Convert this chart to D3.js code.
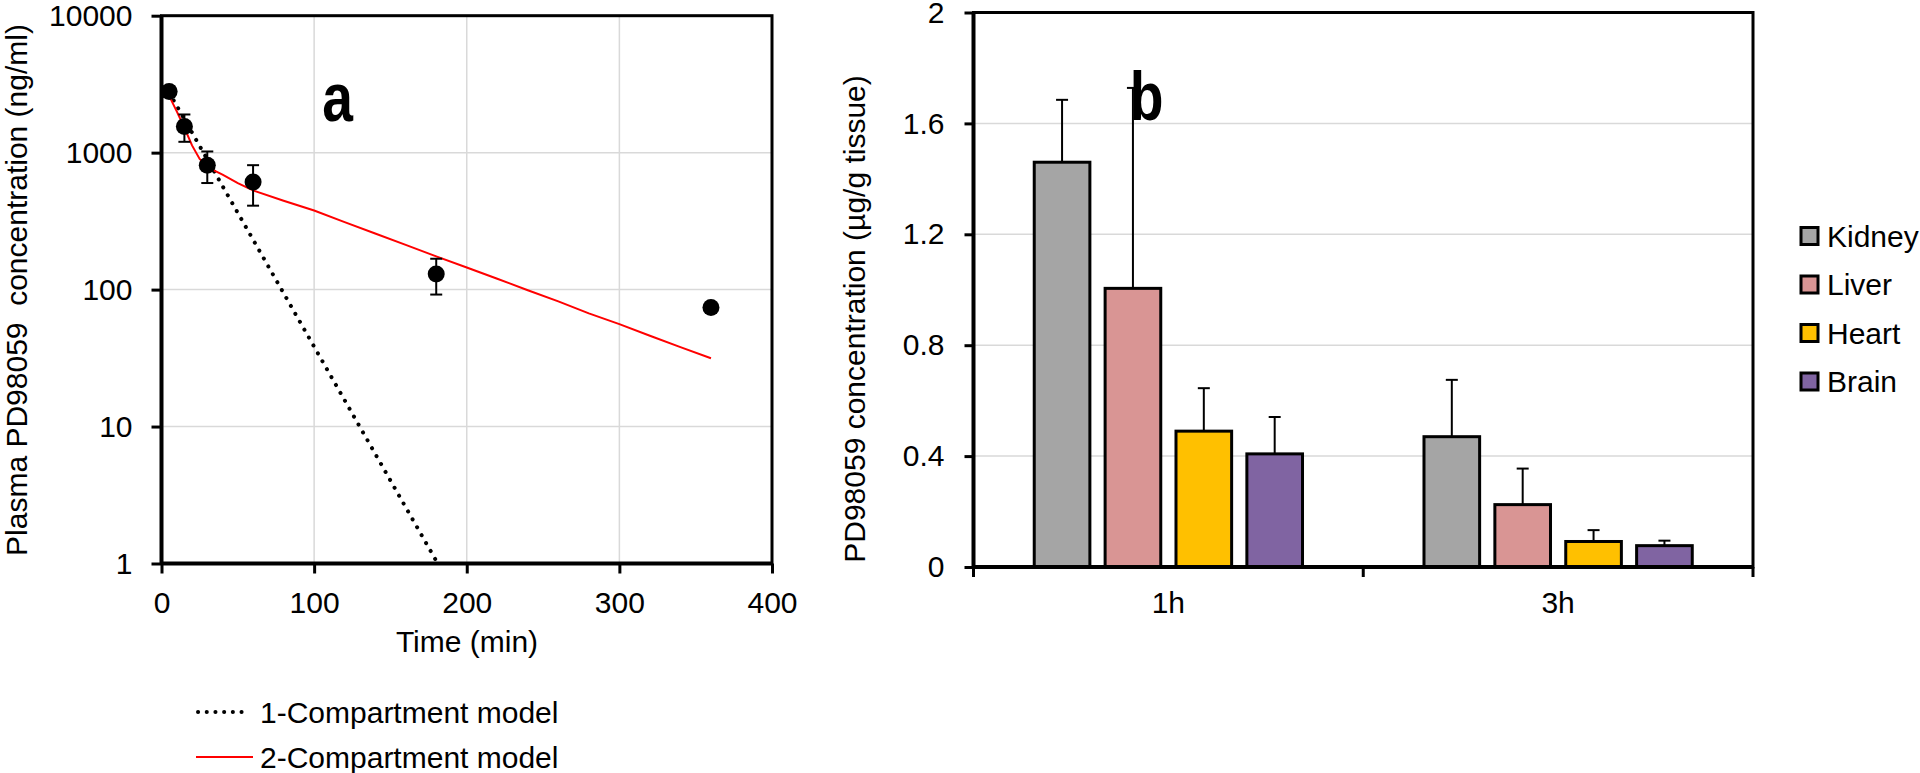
<!DOCTYPE html>
<html><head><meta charset="utf-8">
<script src="https://cdn.jsdelivr.net/npm/d3@7"></script>
<style>
html,body{margin:0;padding:0;background:#fff;}
text{font-family:"Liberation Sans",Arial,sans-serif;fill:#000;}
</style></head>
<body>
<script>
// ---------- Panel a data ----------
const timesA = [5, 15, 30, 60, 180, 360];
const concA = [2800, 1550, 810, 610, 130, 74];
const sdA = [250, 350, 210, 200, 38, 6];
const model1Time = [5, 181];
const model1Conc = [2750, 1];
const model2Time = [5, 10, 15, 20, 25, 30, 35, 40, 50, 60, 80, 100, 120, 140, 160, 180, 200, 220, 240, 260, 280, 300, 320, 340, 360];
const model2Conc = [2600, 2000, 1520, 1130, 900, 800, 735, 690, 600, 530, 445, 378, 311, 257, 212, 175, 145, 120, 99, 82, 67, 56, 46, 38, 31.5];
const xTicksA = [0, 100, 200, 300, 400];
const yTicksA = [1, 10, 100, 1000, 10000];
const legendA = ["1-Compartment model", "2-Compartment model"];

// ---------- Panel b data ----------
const categories = ["1h", "3h"];
const tissues = ["Kidney", "Liver", "Heart", "Brain"];
const kidney = [1.46, 0.47];
const liver = [1.005, 0.225];
const heart = [0.49, 0.092];
const brain = [0.408, 0.077];
const kidneyErr = [0.225, 0.205];
const liverErr = [0.723, 0.13];
const heartErr = [0.155, 0.041];
const brainErr = [0.133, 0.018];
const yTicksB = [0, 0.4, 0.8, 1.2, 1.6, 2];
const tissueColors = ["#A5A5A5", "#D99594", "#FFC000", "#8064A2"];

const W = 1920, H = 773;
const svg = d3.select("body").append("svg").attr("width", W).attr("height", H)
  .style("display", "block").style("background", "#fff");

const FS = 30;
const grid = "#d9d9d9";

// ================= Panel a =================
const ax = d3.scaleLinear().domain([0, 400]).range([161.5, 772]);
const ay = d3.scaleLog().domain([1, 10000]).range([563.5, 15.7]);
const ga = svg.append("g");

// gridlines
ga.selectAll("line.hg").data(yTicksA.slice(1, -1)).enter().append("line")
  .attr("x1", ax(0)).attr("x2", ax(400)).attr("y1", d => ay(d)).attr("y2", d => ay(d))
  .attr("stroke", grid).attr("stroke-width", 1.5);
ga.selectAll("line.vg").data(xTicksA.slice(1, -1)).enter().append("line")
  .attr("y1", ay(1)).attr("y2", ay(10000)).attr("x1", d => ax(d)).attr("x2", d => ax(d))
  .attr("stroke", grid).attr("stroke-width", 1.5);

// axes
const axB = d3.axisBottom(ax).tickValues(xTicksA).tickSize(10).tickPadding(11).tickFormat(d3.format("d"));
const axL = d3.axisLeft(ay).tickValues(yTicksA).tickSize(10).tickPadding(19).tickFormat(d3.format("d"));
const gxa = ga.append("g").attr("transform", `translate(0,${ay(1)})`).call(axB);
const gya = ga.append("g").attr("transform", `translate(${ax(0)},0)`).call(axL);
[gxa, gya].forEach(g => {
  g.select(".domain").remove();
  g.selectAll(".tick line").attr("stroke", "#000").attr("stroke-width", 3);
  g.selectAll(".tick text").style("font-size", FS + "px").attr("fill", "#000");
});
gxa.selectAll(".tick text").attr("dy", "0.95em");
// frame
ga.append("rect").attr("x", ax(0)).attr("y", ay(10000)).attr("width", ax(400) - ax(0)).attr("height", ay(1) - ay(10000))
  .attr("fill", "none").attr("stroke", "#000").attr("stroke-width", 3);
ga.append("line").attr("x1", ax(0)).attr("x2", ax(0)).attr("y1", ay(10000)).attr("y2", ay(1)).attr("stroke", "#000").attr("stroke-width", 4);
ga.append("line").attr("x1", ax(0)).attr("x2", ax(400)).attr("y1", ay(1)).attr("y2", ay(1)).attr("stroke", "#000").attr("stroke-width", 4);

// model lines
const line = d3.line().x(d => ax(d[0])).y(d => ay(d[1]));
const m1 = model1Time.map((t, i) => [t, model1Conc[i]]);
const m2 = model2Time.map((t, i) => [t, model2Conc[i]]);
ga.append("path").attr("d", line(m1)).attr("fill", "none").attr("stroke", "#000")
  .attr("stroke-width", 4).attr("stroke-dasharray", "0.1,9").attr("stroke-linecap", "round");
ga.append("path").attr("d", line(m2)).attr("fill", "none").attr("stroke", "#ff0000").attr("stroke-width", 2);

// error bars + points
const pts = timesA.map((t, i) => ({ t, c: concA[i], sd: sdA[i] }));
const eb = ga.selectAll("g.eb").data(pts).enter().append("g");
eb.append("line").attr("x1", d => ax(d.t)).attr("x2", d => ax(d.t))
  .attr("y1", d => ay(d.c + d.sd)).attr("y2", d => ay(Math.max(d.c - d.sd, 1)))
  .attr("stroke", "#000").attr("stroke-width", 2);
eb.append("line").attr("x1", d => ax(d.t) - 6).attr("x2", d => ax(d.t) + 6)
  .attr("y1", d => ay(d.c + d.sd)).attr("y2", d => ay(d.c + d.sd)).attr("stroke", "#000").attr("stroke-width", 2);
eb.append("line").attr("x1", d => ax(d.t) - 6).attr("x2", d => ax(d.t) + 6)
  .attr("y1", d => ay(d.c - d.sd)).attr("y2", d => ay(d.c - d.sd)).attr("stroke", "#000").attr("stroke-width", 2);
ga.selectAll("circle.pt").data(pts).enter().append("circle")
  .attr("cx", d => ax(d.t)).attr("cy", d => ay(d.c)).attr("r", 8.5).attr("fill", "#000");

// labels
ga.append("text").attr("transform", "translate(337.5,121) scale(0.8,1)").attr("text-anchor", "middle")
  .style("font-size", "69px").style("font-weight", "bold").text("a");
ga.append("text").attr("transform", "translate(27,290) rotate(-90)").attr("text-anchor", "middle")
  .style("font-size", FS + "px").style("white-space", "pre").text("Plasma PD98059  concentration (ng/ml)");
ga.append("text").attr("x", 467).attr("y", 652).attr("text-anchor", "middle")
  .style("font-size", FS + "px").text("Time (min)");

// legend a
const legY = [712, 757];
ga.append("line").attr("x1", 198).attr("x2", 250).attr("y1", legY[0]).attr("y2", legY[0])
  .attr("stroke", "#000").attr("stroke-width", 4).attr("stroke-dasharray", "0.1,8.6").attr("stroke-linecap", "round");
ga.append("line").attr("x1", 196).attr("x2", 253).attr("y1", legY[1]).attr("y2", legY[1])
  .attr("stroke", "#ff0000").attr("stroke-width", 2);
ga.selectAll("text.leg").data(legendA).enter().append("text")
  .attr("x", 260).attr("y", (d, i) => legY[i]).attr("dy", "0.35em")
  .style("font-size", FS + "px").text(d => d);

// ================= Panel b =================
const bx0 = d3.scaleBand().domain(categories).range([973.5, 1753]).paddingInner(0).paddingOuter(0);
const bx1 = d3.scaleBand().domain(tissues).range([0, bx0.bandwidth()]).paddingInner(0.215).paddingOuter(0.857);
const by = d3.scaleLinear().domain([0, 2]).range([567, 12.5]);
const gb = svg.append("g");

gb.selectAll("line.hg").data(yTicksB.slice(1, -1)).enter().append("line")
  .attr("x1", bx0.range()[0]).attr("x2", bx0.range()[1]).attr("y1", d => by(d)).attr("y2", d => by(d))
  .attr("stroke", grid).attr("stroke-width", 1.5);

const byAxis = d3.axisLeft(by).tickValues(yTicksB).tickSize(9).tickPadding(20).tickFormat(d => d3.format("~g")(d));
const gyb = gb.append("g").attr("transform", `translate(${bx0.range()[0]},0)`).call(byAxis);
gyb.select(".domain").remove();
gyb.selectAll(".tick line").attr("stroke", "#000").attr("stroke-width", 3);
gyb.selectAll(".tick text").style("font-size", FS + "px");

// category separator ticks
const sepX = [bx0.range()[0], bx0("3h"), bx0.range()[1]];
gb.selectAll("line.sep").data(sepX).enter().append("line")
  .attr("x1", d => d).attr("x2", d => d).attr("y1", by(0)).attr("y2", by(0) + 10)
  .attr("stroke", "#000").attr("stroke-width", 3);
// category labels
gb.selectAll("text.cat").data(categories).enter().append("text")
  .attr("x", d => bx0(d) + bx0.bandwidth() / 2).attr("y", 613).attr("text-anchor", "middle")
  .style("font-size", FS + "px").text(d => d);

// bars
const seriesVals = [kidney, liver, heart, brain];
const seriesErr = [kidneyErr, liverErr, heartErr, brainErr];
const barData = [];
categories.forEach((c, ci) => tissues.forEach((t, ti) => barData.push({ c, t, ti, v: seriesVals[ti][ci], e: seriesErr[ti][ci] })));
const bg = gb.selectAll("g.bar").data(barData).enter().append("g");
bg.append("line").attr("x1", d => bx0(d.c) + bx1(d.t) + bx1.bandwidth() / 2).attr("x2", d => bx0(d.c) + bx1(d.t) + bx1.bandwidth() / 2)
  .attr("y1", d => by(d.v)).attr("y2", d => by(d.v + d.e)).attr("stroke", "#000").attr("stroke-width", 2);
bg.append("line").attr("x1", d => bx0(d.c) + bx1(d.t) + bx1.bandwidth() / 2 - 6).attr("x2", d => bx0(d.c) + bx1(d.t) + bx1.bandwidth() / 2 + 6)
  .attr("y1", d => by(d.v + d.e)).attr("y2", d => by(d.v + d.e)).attr("stroke", "#000").attr("stroke-width", 2);
bg.append("rect").attr("x", d => bx0(d.c) + bx1(d.t)).attr("width", bx1.bandwidth())
  .attr("y", d => by(d.v)).attr("height", d => by(0) - by(d.v))
  .attr("fill", d => tissueColors[d.ti]).attr("stroke", "#000").attr("stroke-width", 3);

// frame b
gb.append("rect").attr("x", bx0.range()[0]).attr("y", by(2)).attr("width", bx0.range()[1] - bx0.range()[0]).attr("height", by(0) - by(2))
  .attr("fill", "none").attr("stroke", "#000").attr("stroke-width", 3);
gb.append("line").attr("x1", bx0.range()[0]).attr("x2", bx0.range()[0]).attr("y1", by(2)).attr("y2", by(0)).attr("stroke", "#000").attr("stroke-width", 4);
gb.append("line").attr("x1", bx0.range()[0]).attr("x2", bx0.range()[1]).attr("y1", by(0)).attr("y2", by(0)).attr("stroke", "#000").attr("stroke-width", 4);

gb.append("text").attr("transform", "translate(1146.5,120) scale(0.8,1)").attr("text-anchor", "middle")
  .style("font-size", "69px").style("font-weight", "bold").text("b");
gb.append("text").attr("transform", "translate(865,319) rotate(-90)").attr("text-anchor", "middle")
  .style("font-size", FS + "px").text("PD98059 concentration (µg/g tissue)");

// legend b
const lg = gb.selectAll("g.lg").data(tissues).enter().append("g")
  .attr("transform", (d, i) => `translate(1801,${236 + i * 48.5})`);
lg.append("rect").attr("x", 0).attr("y", -8.5).attr("width", 17).attr("height", 17)
  .attr("fill", (d, i) => tissueColors[i]).attr("stroke", "#000").attr("stroke-width", 3);
lg.append("text").attr("x", 26).attr("y", 0).attr("dy", "0.35em").style("font-size", FS + "px").text(d => d);
</script>
</body></html>
